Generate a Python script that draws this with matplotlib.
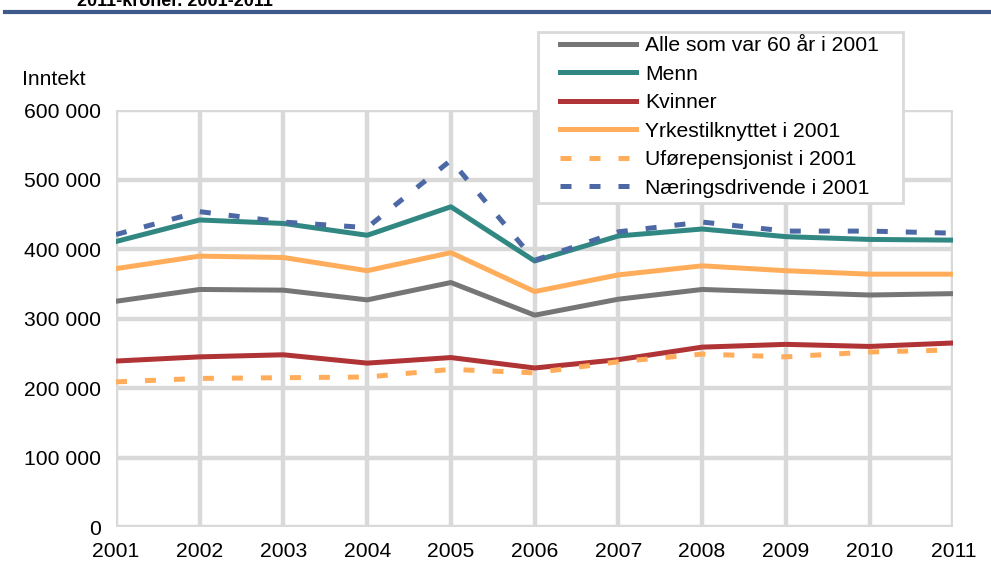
import matplotlib.pyplot as plt
from matplotlib.patches import Rectangle
import numpy as np

plt.rcParams['font.family'] = ['Liberation Sans', 'DejaVu Sans']

years = list(range(2001, 2012))

alle = [325000, 342000, 341000, 327000, 352000, 305000, 328000, 342000, 338000, 334000, 336000]
menn = [411000, 442000, 437000, 420000, 461000, 383000, 419000, 429000, 418000, 414000, 413000]
kvinner = [239000, 245000, 248000, 236000, 244000, 229000, 241000, 259000, 263000, 260000, 265000]
yrke = [372000, 390000, 388000, 369000, 395000, 339000, 363000, 376000, 369000, 364000, 364000]
ufore = [209000, 214000, 215000, 216000, 227000, 222000, 238000, 249000, 245000, 252000, 255000]
naering = [421000, 454000, 439000, 431000, 528000, 384000, 425000, 439000, 426000, 426000, 423000]

fig = plt.figure(figsize=(9.91, 5.68), dpi=100)
ax = fig.add_axes([0.117, 0.072, 0.845, 0.734])

lw = 3.6
ax.plot(years, alle, color='#767676', lw=lw, label='Alle som var 60 år i 2001', zorder=3)
ax.plot(years, menn, color='#318883', lw=lw, label='Menn', zorder=3)
ax.plot(years, kvinner, color='#B03335', lw=lw, label='Kvinner', zorder=3)
ax.plot(years, yrke, color='#FFAD5B', lw=lw, label='Yrkestilknyttet i 2001', zorder=3)
ax.plot(years, ufore, color='#FFAD5B', lw=lw, dashes=(2.2, 3.6),
        label='Uførepensjonist i 2001', zorder=3)
ax.plot(years, naering, color='#4D69A5', lw=lw, dashes=(2.2, 3.6),
        label='Næringsdrivende i 2001', zorder=3)

ax.set_xlim(2001, 2011)
ax.set_ylim(0, 600000)
ax.set_xticks(years)
ax.set_yticks(np.arange(0, 600001, 100000))
ax.set_yticklabels(['0', '100 000', '200 000', '300 000', '400 000', '500 000', '600 000'])
ax.tick_params(axis='both', length=0, labelsize=15.2, colors='black')
ax.tick_params(axis='x', pad=11)
ax.tick_params(axis='y', pad=11)
ax.grid(True, color='#D9D9D9', lw=3.2)
ax.set_axisbelow(True)
for s in ax.spines.values():
    s.set_visible(False)

fig.text(0.022, 0.86, 'Inntekt', fontsize=15.2, ha='left', va='center')

# legend box drawn separately so its padding can be wider than the legend's own
box = Rectangle((0.543, 0.643), 0.368, 0.301, transform=fig.transFigure,
                facecolor='white', edgecolor='#D9D9D9', lw=2, zorder=4)
fig.add_artist(box)
leg = fig.legend(loc='upper left', bbox_to_anchor=(0.565, 0.936), fontsize=15.2,
                 frameon=False, handlelength=3.6, handletextpad=0.45,
                 labelspacing=0.45, borderpad=0, borderaxespad=0)
leg.set_zorder(5)

# header rule and title above it
fig.add_artist(plt.Line2D([0.005, 1.0], [0.979, 0.979], color='#3F5A8A', lw=3,
                          transform=fig.transFigure))
fig.text(0.078, 0.997, '2011-kroner. 2001-2011', fontsize=13, fontweight='bold',
         ha='left', va='center')

fig.savefig('out.png', dpi=100)
